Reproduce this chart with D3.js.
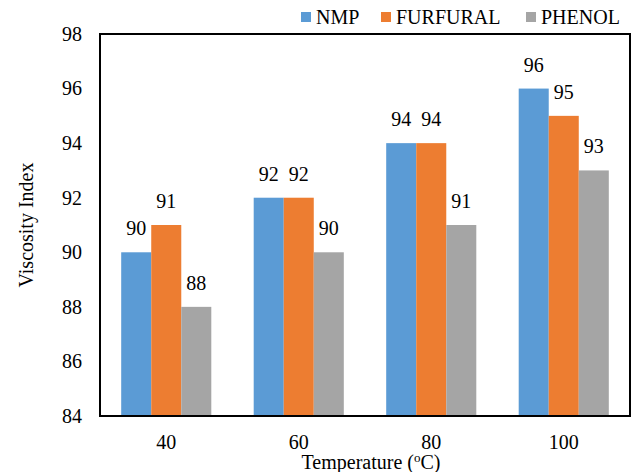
<!DOCTYPE html>
<html>
<head>
<meta charset="utf-8">
<script src="https://cdn.jsdelivr.net/npm/d3@7"></script>
<style>
  body { margin: 0; background: #fff; }
  svg text { font-family: "Liberation Serif", "Times New Roman", serif !important; fill: #000; }
</style>
</head>
<body>
<div id="chart"></div>
<script>
// data
const temperatures = ["40", "60", "80", "100"];
const seriesNames = ["NMP", "FURFURAL", "PHENOL"];
const nmp = [90, 92, 94, 96];
const furfural = [91, 92, 94, 95];
const phenol = [88, 90, 91, 93];
const yTicks = [84, 86, 88, 90, 92, 94, 96, 98];

const colors = ["#5B9BD5", "#ED7D31", "#A5A5A5"];
const allSeries = [nmp, furfural, phenol];
const serif = "'Liberation Serif', 'Times New Roman', serif";

const width = 634, height = 472;
const margin = { top: 34, right: 4, bottom: 56, left: 100 };
const plotW = width - margin.left - margin.right;
const plotH = height - margin.top - margin.bottom;

const svg = d3.select("#chart").append("svg")
    .attr("width", width)
    .attr("height", height)
    .attr("font-family", serif);

const g = svg.append("g")
    .attr("transform", `translate(${margin.left},${margin.top})`);

// scales
const x0 = d3.scaleBand()
    .domain(temperatures)
    .range([0, plotW])
    .paddingInner(0.32)
    .paddingOuter(0.16);

const x1 = d3.scaleBand()
    .domain(seriesNames)
    .range([0, x0.bandwidth()]);

const y = d3.scaleLinear()
    .domain([84, 98])
    .range([plotH, 0]);

// bars
const groups = g.selectAll(".grp")
    .data(temperatures)
    .enter().append("g")
    .attr("class", "grp")
    .attr("transform", d => `translate(${x0(d)},0)`);

groups.selectAll("rect")
    .data((d, i) => seriesNames.map((s, j) => ({ s: s, v: allSeries[j][i], c: colors[j] })))
    .enter().append("rect")
    .attr("x", d => x1(d.s))
    .attr("y", d => y(d.v))
    .attr("width", x1.bandwidth())
    .attr("height", d => plotH - y(d.v))
    .attr("fill", d => d.c);

// value labels
groups.selectAll(".val")
    .data((d, i) => seriesNames.map((s, j) => ({ s: s, v: allSeries[j][i] })))
    .enter().append("text")
    .attr("class", "val")
    .attr("x", d => x1(d.s) + x1.bandwidth() / 2)
    .attr("y", d => y(d.v) - 17)
    .attr("text-anchor", "middle")
    .attr("font-size", 20)
    .text(d => d.v);

// y axis (labels only, no tick marks)
const yAxis = g.append("g")
    .call(d3.axisLeft(y).tickValues(yTicks).tickSize(0).tickPadding(18))
    .attr("font-family", serif)
    .attr("font-size", 20);
yAxis.select(".domain").remove();

// x axis labels
const xAxis = g.append("g")
    .attr("transform", `translate(0,${plotH})`)
    .call(d3.axisBottom(x0).tickSize(0).tickPadding(19))
    .attr("font-family", serif)
    .attr("font-size", 20);
xAxis.select(".domain").remove();

// plot border
g.append("rect")
    .attr("x", 0).attr("y", 0)
    .attr("width", plotW).attr("height", plotH)
    .attr("fill", "none")
    .attr("stroke", "#000")
    .attr("stroke-width", 2);

// axis titles
svg.append("text")
    .attr("transform", `translate(33,${margin.top + plotH / 2}) rotate(-90)`)
    .attr("text-anchor", "middle")
    .attr("font-size", 20)
    .text("Viscosity Index");

const xt = svg.append("text")
    .attr("x", margin.left + plotW / 2 + 6)
    .attr("y", 469)
    .attr("text-anchor", "middle")
    .attr("font-size", 20);
xt.append("tspan").text("Temperature (");
xt.append("tspan").attr("dy", -7).attr("font-size", 13).text("o");
xt.append("tspan").attr("dy", 7).text("C)");

// legend
const legendX = [301, 381, 526];
const legend = svg.append("g");
seriesNames.forEach((s, i) => {
    legend.append("rect")
        .attr("x", legendX[i]).attr("y", 12)
        .attr("width", 10).attr("height", 10)
        .attr("fill", colors[i]);
    legend.append("text")
        .attr("x", legendX[i] + 15).attr("y", 24)
        .attr("font-size", 20)
        .text(s);
});
</script>
</body>
</html>
